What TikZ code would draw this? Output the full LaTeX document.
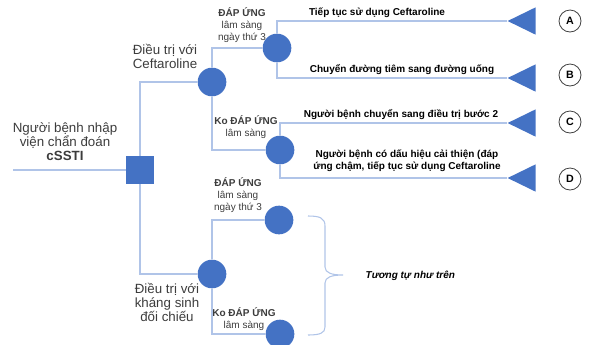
\documentclass[tikz,border=0pt]{standalone}
\usepackage{fontspec}
\setmainfont{Liberation Sans}
\usepackage{tikz}
\usetikzlibrary{shapes.geometric, positioning}
\definecolor{nodeblue}{RGB}{68,114,196}
\definecolor{linkblue}{RGB}{176,196,232}
\definecolor{textgray}{RGB}{60,60,60}

\begin{document}
\begin{tikzpicture}[x=0.75pt, y=-0.75pt,
    link/.style={linkblue, line width=0.8pt},
    dot/.style={circle, fill=nodeblue, minimum size=21.5pt, inner sep=0pt},
    outcome/.style={isosceles triangle, isosceles triangle apex angle=52, shape border rotate=180,
        fill=nodeblue, minimum height=21pt, inner sep=0pt, anchor=apex},
    letter/.style={circle, draw=black!75, line width=0.6pt, minimum size=16.5pt, inner sep=0pt,
        font=\fontsize{8}{9}\selectfont\bfseries},
    armtxt/.style={align=center, text=textgray, font=\fontsize{10}{10.5}\selectfont},
    resptxt/.style={align=center, text=textgray, font=\fontsize{7.5}{9}\selectfont},
    outtxt/.style={align=center, font=\fontsize{7.5}{9}\selectfont\bfseries}]
    \clip (0,0) rectangle (589,344);

    % Decision node
    \coordinate (start) at (13,170);
    \node[rectangle, fill=nodeblue, minimum size=21pt, inner sep=0pt] (root) at (140,170) {};
    \node[armtxt] (roottxt) at (65,141.5) {Người bệnh nhập\\viện chẩn đoán\\\textbf{cSSTI}};

    % Ceftaroline arm
    \node[dot] (ceft) at (212,82) {};
    \node[armtxt] (cefttxt) at (165,56.5) {Điều trị với\\Ceftaroline};
    \node[dot] (ceftyes) at (277,48) {};
    \node[resptxt] (ceftyestxt) at (242,25) {\textbf{ĐÁP ỨNG}\\lâm sàng\\ngày thứ 3};
    \node[dot] (ceftno) at (280,150) {};
    \node[resptxt] (ceftnotxt) at (246,127.5) {\textbf{Ko ĐÁP ỨNG}\\lâm sàng};

    % Comparator arm
    \node[dot] (comp) at (212,274) {};
    \node[armtxt] (comptxt) at (167,302.5) {Điều trị với\\kháng sinh\\đối chiếu};
    \node[dot] (compyes) at (279,220) {};
    \node[resptxt] (compyestxt) at (238,195) {\textbf{ĐÁP ỨNG}\\lâm sàng\\ngày thứ 3};
    \node[dot] (compno) at (280,334) {};
    \node[resptxt] (compnotxt) at (244,319) {\textbf{Ko ĐÁP ỨNG}\\lâm sàng};

    % Outcomes
    \node[outcome] (triA) at (507,21) {};
    \node[outcome] (triB) at (507,78) {};
    \node[outcome] (triC) at (507,123) {};
    \node[outcome] (triD) at (507,178) {};
    \node[outtxt] (outA) at (377,13) {Tiếp tục sử dụng Ceftaroline};
    \node[outtxt] (outB) at (402,70) {Chuyển đường tiêm sang đường uống};
    \node[outtxt] (outC) at (401,115) {Người bệnh chuyển sang điều trị bước 2};
    \node[outtxt] (outD) at (407,161) {Người bệnh có dấu hiệu cải thiện (đáp\\ứng chậm, tiếp tục sử dụng Ceftaroline};
    \node[letter] (lA) at (570,21) {A};
    \node[letter] (lB) at (570,75) {B};
    \node[letter] (lC) at (570,122) {C};
    \node[letter] (lD) at (570,179) {D};

    % Branches
    \draw[link] (start) -- (root);
    \draw[link] (root) |- (ceft);
    \draw[link] (root) |- (comp);
    \draw[link] (ceft) |- (ceftyes);
    \draw[link] (ceft) |- (ceftno);
    \draw[link] (comp) |- (compyes);
    \draw[link] (comp) |- (compno);
    \draw[link] (ceftyes) |- (triA.apex);
    \draw[link] (ceftyes) |- (triB.apex);
    \draw[link] (ceftno) |- (triC.apex);
    \draw[link] (ceftno) |- (triD.apex);

    % Same as above
    \draw[link] (308,216) .. controls (320,216) and (325,218) .. (325,226) -- (325,267)
        .. controls (325,273) and (332,275) .. (343,275)
        .. controls (332,275) and (325,277) .. (325,283) -- (325,327)
        .. controls (325,333) and (320,335) .. (308,335);
    \node[outtxt, font=\fontsize{7.5}{9}\selectfont\bfseries\itshape, anchor=west] (sametxt) at (361,276) {Tương tự như trên};
\end{tikzpicture}
\end{document}
